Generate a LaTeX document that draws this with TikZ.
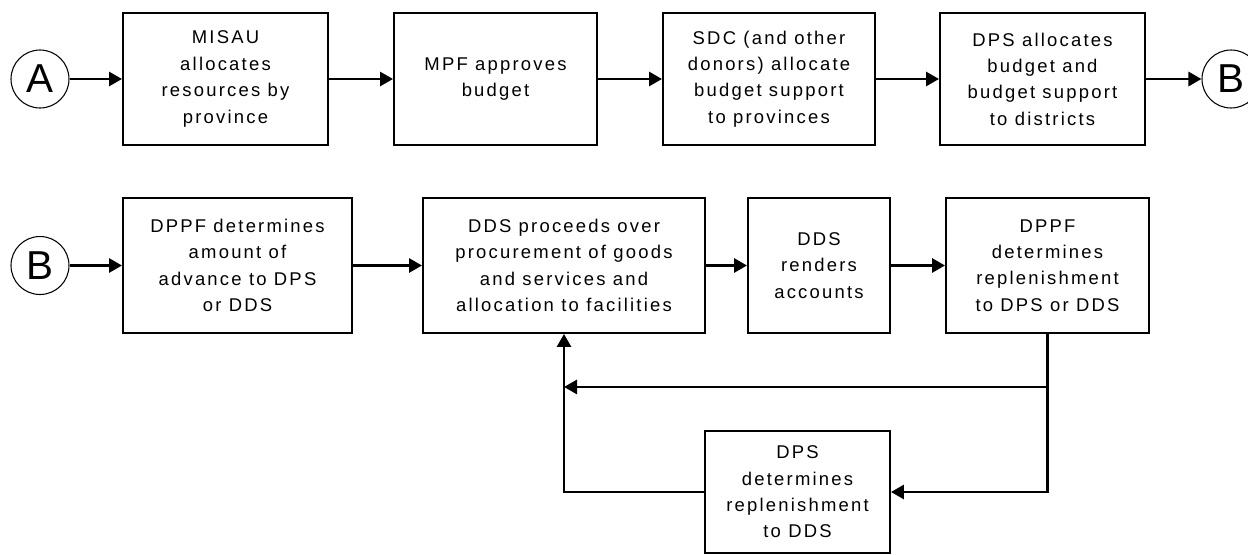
\documentclass[tikz,border=0pt]{standalone}
\usepackage{fontspec}
\setmainfont{Liberation Sans}
\newfontfamily\boxfont{Liberation Sans}[LetterSpace=12]
\usepackage{tikz}
\usetikzlibrary{arrows.meta,positioning,calc}

\begin{document}
\begin{tikzpicture}[
    every node/.style={font=\boxfont\fontsize{10.5}{15}\selectfont},
    box/.style={draw, line width=1.1pt, align=center, inner sep=2pt, minimum height=2.64cm},
    conn/.style={draw, circle, line width=0.6pt, minimum size=1.16cm, inner sep=0pt, font=\fontsize{23}{23}\selectfont},
    flow/.style={line width=1.6pt, -{Triangle[length=0.26cm, width=0.28cm]}}
]
\useasboundingbox (0,0) rectangle (24.96,-11.08);

\node[conn] (A) at (0.80,-1.58) {A};
\node[box, minimum width=4.10cm] (misau) at (4.51,-1.58) {MISAU\\allocates\\resources by\\province};
\node[box, minimum width=4.06cm] (mpf) at (9.91,-1.58) {MPF approves\\budget};
\node[box, minimum width=4.24cm] (sdc) at (15.38,-1.58) {SDC (and other\\donors) allocate\\budget support\\to provinces};
\node[box, minimum width=4.10cm] (dps) at (20.85,-1.58) {DPS allocates\\budget and\\budget support\\to districts};
\node[conn] (B1) at (24.62,-1.58) {B};

\node[conn] (B2) at (0.80,-5.31) {B};
\node[box, minimum width=4.58cm, minimum height=2.70cm] (advance) at (4.75,-5.31) {DPPF determines\\amount of\\advance to DPS\\or DDS};
\node[box, minimum width=5.64cm, minimum height=2.70cm] (procure) at (11.28,-5.31) {DDS proceeds over\\procurement of goods\\and services and\\allocation to facilities};
\node[box, minimum width=2.84cm, minimum height=2.70cm] (render) at (16.38,-5.31) {DDS\\renders\\accounts};
\node[box, minimum width=4.06cm, minimum height=2.70cm] (replen) at (20.95,-5.31) {DPPF\\determines\\replenishment\\to DPS or DDS};
\node[box, minimum width=3.70cm, minimum height=2.44cm] (dpsrep) at (15.95,-9.84) {DPS\\determines\\replenishment\\to DDS};

\draw[flow] (A) -- (misau);
\draw[flow] (misau) -- (mpf);
\draw[flow] (mpf) -- (sdc);
\draw[flow] (sdc) -- (dps);
\draw[flow] (dps) -- (B1);

\draw[flow] (B2) -- (advance);
\draw[flow] (advance) -- (procure);
\draw[flow] (procure) -- (render);
\draw[flow] (render) -- (replen);

\coordinate (fork) at ($(replen.south)+(0,-1.06)$);
\draw[flow] (replen.south) |- (dpsrep.east);
\draw[flow] (fork) -- (fork -| procure.south);
\draw[flow] (dpsrep.west) -| (procure.south);
\end{tikzpicture}
\end{document}
